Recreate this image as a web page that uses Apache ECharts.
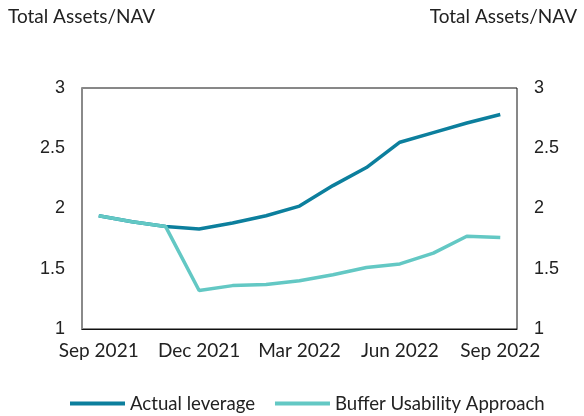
<!DOCTYPE html>
<html>
<head>
<meta charset="utf-8">
<script src="https://cdn.jsdelivr.net/npm/echarts@6/dist/echarts.min.js"></script>
<style>
  html, body { margin: 0; padding: 0; background: #fff; }
  #chart { width: 584px; height: 416px; }
</style>
</head>
<body>
<div id="chart"></div>
<script>
// monthly, Sep 2021 .. Sep 2022
var months = ['Sep 2021', 'Oct 2021', 'Nov 2021', 'Dec 2021', 'Jan 2022', 'Feb 2022',
  'Mar 2022', 'Apr 2022', 'May 2022', 'Jun 2022', 'Jul 2022', 'Aug 2022', 'Sep 2022'];
var actualLeverage = [1.94, 1.89, 1.85, 1.83, 1.88, 1.94, 2.02, 2.19, 2.34, 2.55, 2.63, 2.71, 2.78];
var bufferUsability = [1.94, 1.89, 1.85, 1.32, 1.36, 1.37, 1.40, 1.45, 1.51, 1.54, 1.63, 1.77, 1.76];
var yTicks = { min: 1, max: 3, interval: 0.5 };

var lato = 'Lato, "Open Sans", sans-serif';
var arial = '"Liberation Sans", Arial, sans-serif';

var chart = echarts.init(document.getElementById('chart'));

function yAxisFor(pos) {
  return {
    type: 'value',
    position: pos,
    min: yTicks.min,
    max: yTicks.max,
    interval: yTicks.interval,
    splitLine: { show: false },
    axisTick: { show: false },
    axisLine: pos === 'left'
      ? { show: true, lineStyle: { color: '#8a8a8a', width: 2 } }
      : { show: false },
    axisLabel: { fontFamily: arial, fontSize: 18, color: '#222', margin: 17 }
  };
}

chart.setOption({
  animation: false,
  title: [
    { text: 'Total Assets/NAV', left: 3, top: 2,
      textStyle: { fontFamily: lato, fontSize: 19, fontWeight: 'normal', color: '#222' } },
    { text: 'Total Assets/NAV', right: 2, top: 2,
      textStyle: { fontFamily: lato, fontSize: 19, fontWeight: 'normal', color: '#222' } }
  ],
  grid: {
    left: 82, right: 67, top: 88, bottom: 87,
    show: true, borderColor: '#111', borderWidth: 1
  },
  legend: {
    top: 389,
    left: 65,
    itemWidth: 55,
    itemHeight: 4,
    itemGap: 20,
    icon: 'rect',
    textStyle: { fontFamily: lato, fontSize: 18.6, color: '#222' },
    data: ['Actual leverage', 'Buffer Usability Approach']
  },
  xAxis: {
    type: 'category',
    data: months,
    boundaryGap: true,
    axisTick: { show: false },
    axisLine: { lineStyle: { color: '#111', width: 1 } },
    axisLabel: { interval: 2, fontFamily: lato, fontSize: 19, color: '#222', margin: 12 }
  },
  yAxis: [yAxisFor('left'), yAxisFor('right')],
  series: [
    {
      name: 'Buffer Usability Approach',
      type: 'line',
      data: bufferUsability,
      showSymbol: false,
      color: '#63c8c4',
      lineStyle: { width: 3.5, color: '#63c8c4' },
      z: 2
    },
    {
      name: 'Actual leverage',
      type: 'line',
      data: actualLeverage,
      showSymbol: false,
      color: '#0c7f9d',
      lineStyle: { width: 3.5, color: '#0c7f9d' },
      z: 1
    }
  ]
});
</script>
</body>
</html>
